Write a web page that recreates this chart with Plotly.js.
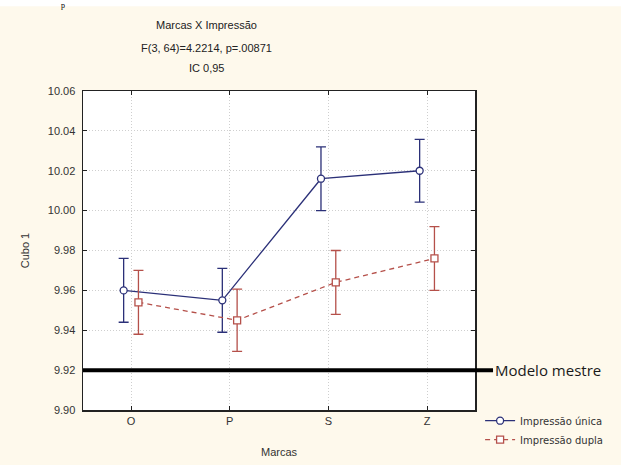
<!DOCTYPE html>
<html>
<head>
<meta charset="utf-8">
<script src="https://cdn.plot.ly/plotly-3.0.1.min.js"></script>
<style>
  html, body { margin: 0; padding: 0; background: #fef9ec; }
  #chart { width: 621px; height: 465px; }
</style>
</head>
<body>
<div id="chart"></div>
<script>
// ---- data ----
const categories = ['O', 'P', 'S', 'Z'];
const unicaMeans = [9.960, 9.955, 10.016, 10.020];
const unicaCI = [0.016, 0.016, 0.016, 0.0157];
const duplaMeans = [9.954, 9.945, 9.964, 9.976];
const duplaCI = [0.016, 0.0156, 0.016, 0.016];
const modeloMestre = 9.92;
const titleLines = ['Marcas X Impressão', 'F(3, 64)=4.2214, p=.00871', 'IC 0,95'];

// ---- styles ----
const blue = '#2b3078';
const red = '#b5504a';
const offset = 0.075;
const idx = categories.map((c, i) => i);

const traces = [
  {
    x: idx.map(i => i - offset),
    y: unicaMeans,
    name: 'Impressão única',
    type: 'scatter',
    mode: 'lines+markers',
    line: { color: blue, width: 1.3 },
    marker: { symbol: 'circle', size: 7, color: '#ffffff', line: { color: blue, width: 1.3 } },
    error_y: { type: 'data', array: unicaCI, visible: true, color: blue, thickness: 1.3, width: 5 }
  },
  {
    x: idx.map(i => i + offset),
    y: duplaMeans,
    name: 'Impressão dupla',
    type: 'scatter',
    mode: 'lines+markers',
    line: { color: red, width: 1.3, dash: '5px,4px' },
    marker: { symbol: 'square', size: 7, color: '#ffffff', line: { color: red, width: 1.3 } },
    error_y: { type: 'data', array: duplaCI, visible: true, color: red, thickness: 1.3, width: 5 }
  }
];

const axisCommon = {
  showline: true, linecolor: '#222', linewidth: 1.5, mirror: 'ticks',
  ticks: 'inside', ticklen: 4, tickcolor: '#222', tickwidth: 1,
  showgrid: true, gridcolor: '#cfcfcf', griddash: '1px,2px', gridwidth: 1,
  zeroline: false,
  tickfont: { family: 'Liberation Sans, Arial, sans-serif', size: 11, color: '#333' }
};

const annotations = titleLines.map((t, i) => ({
  text: t, xref: 'paper', yref: 'paper',
  x: 0.316, y: [1.206, 1.136, 1.072][i],
  xanchor: 'center', yanchor: 'middle', showarrow: false,
  font: { family: 'Liberation Sans, Arial, sans-serif', size: 11, color: '#222' }
}));
annotations.push({
  text: 'Modelo mestre', xref: 'paper', yref: 'y',
  x: 1.046, y: modeloMestre, xanchor: 'left', yanchor: 'middle', showarrow: false,
  font: { family: 'Open Sans, sans-serif', size: 15, color: '#1a1a1a' }
});
annotations.push({
  text: 'p', xref: 'paper', yref: 'paper',
  x: (63 - 83) / 392, y: 1.284, xanchor: 'center', yanchor: 'top', showarrow: false,
  borderpad: 0,
  font: { family: 'Liberation Serif, serif', size: 8, color: '#000' }
});

const layout = {
  width: 621, height: 465,
  margin: { l: 83, r: 146, t: 91, b: 54 },
  paper_bgcolor: '#fef9ec',
  plot_bgcolor: '#ffffff',
  showlegend: true,
  legend: {
    x: 1.013, y: 0.015, xanchor: 'left', yanchor: 'top',
    bgcolor: 'rgba(0,0,0,0)',
    font: { family: 'DejaVu Sans, sans-serif', size: 10, color: '#333' },
    itemwidth: 30, tracegroupgap: 0
  },
  xaxis: Object.assign({}, axisCommon, {
    range: [-0.487, 3.486],
    tickmode: 'array', tickvals: idx, ticktext: categories,
    title: { text: 'Marcas', standoff: 22, font: { family: 'Liberation Sans, Arial, sans-serif', size: 11, color: '#333' } }
  }),
  yaxis: Object.assign({}, axisCommon, {
    range: [9.90, 10.06], dtick: 0.02, tick0: 9.90, tickformat: '.2f',
    ticklabelstandoff: 4,
    title: { text: 'Cubo 1', standoff: 16, font: { family: 'Liberation Sans, Arial, sans-serif', size: 11, color: '#333' } }
  }),
  shapes: [
    {
      type: 'line', xref: 'paper', yref: 'y',
      x0: 0, x1: 1.046, y0: modeloMestre, y1: modeloMestre,
      line: { color: '#000', width: 4 }, layer: 'above'
    },
    {
      type: 'rect', xref: 'paper', yref: 'paper',
      x0: -0.3, x1: 1.5, y0: 1.2656, y1: 1.3,
      fillcolor: '#ffffff', line: { width: 0 }, layer: 'above'
    }
  ],
  annotations: annotations
};

Plotly.newPlot('chart', traces, layout, { displayModeBar: false, staticPlot: true });
</script>
</body>
</html>
